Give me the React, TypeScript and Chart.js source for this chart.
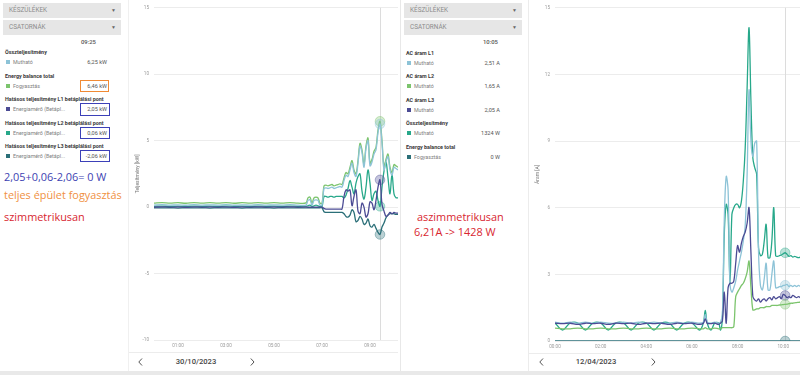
import React, { useEffect, useRef } from 'react';
import { Chart, registerables } from 'chart.js';
Chart.register(...registerables);

// ---------- colours ----------
const LIGHT_BLUE = '#8dc3d7';
const GREEN = '#7cc46d';
const NAVY = '#4b4b94';
const TEAL = '#27a88a';
const DARK_TEAL = '#2b6f78';

// ---------- left chart (30/10/2023, kW) ----------
const leftTimes = [
  0, 20, 40, 60, 80, 100, 120, 140, 160, 180, 200, 220, 240, 260, 280, 300, 320, 340, 360, 380,
  385, 390, 395, 400, 405, 410, 415, 420, 425, 430, 435, 440, 445, 450, 455, 460, 465, 470, 475, 480,
  485, 490, 495, 500, 505, 510, 515, 520, 525, 530, 535, 540, 545, 550, 555, 560, 565, 570, 575, 580,
  585, 590, 595, 600, 605, 610,
];
const leftFogyasztas = [
  0.3, 0.34, 0.3, 0.33, 0.29, 0.34, 0.3, 0.33, 0.3, 0.34, 0.29, 0.33, 0.3, 0.34, 0.3, 0.33, 0.3, 0.34, 0.3, 0.32,
  0.7, 0.75, 0.3, 0.7, 0.75, 0.7, 0.3, 0.3, 1.6, 1.65, 1.6, 1.65, 1.7, 1.6, 1.65, 1.7, 1.75, 1.7, 2.2, 2.6,
  2.5, 3.0, 3.5, 2.8, 2.5, 3.5, 4.8, 4.3, 3.2, 4.6, 5.2, 3.3, 3.6, 4.2, 4.5, 5.8, 6.46, 5.0, 3.0, 3.6,
  4.0, 3.0, 2.6, 3.2, 3.1, 3.0,
];
const leftMuthato = [
  0.15, 0.18, 0.15, 0.17, 0.14, 0.18, 0.15, 0.17, 0.15, 0.18, 0.14, 0.17, 0.15, 0.18, 0.15, 0.17, 0.15, 0.18, 0.15, 0.16,
  0.5, 0.55, 0.15, 0.5, 0.55, 0.5, 0.15, 0.15, 1.4, 1.45, 1.4, 1.45, 1.5, 1.4, 1.45, 1.5, 1.55, 1.5, 2.0, 2.4,
  2.3, 2.8, 3.3, 2.6, 2.3, 3.3, 4.6, 4.1, 3.0, 4.4, 5.0, 3.1, 3.4, 4.0, 4.3, 5.6, 6.25, 4.8, 2.8, 3.4,
  3.8, 2.8, 2.4, 3.0, 2.9, 2.8,
];
const leftL1 = [
  0.0, 0.02, 0.0, 0.01, -0.01, 0.02, 0.0, 0.01, 0.0, 0.02, -0.01, 0.01, 0.0, 0.02, 0.0, 0.01, 0.0, 0.02, 0.0, 0.01,
  0.0, 0.0, 0.0, 0.0, 0.0, 0.0, 0.0, 0.0, -0.1, -0.15, -0.15, -0.15, -0.15, -0.15, -0.15, -0.15, -0.15, -0.15, 0.8, 1.3,
  1.2, 1.3, 0.1, 0.8, 1.3, -0.3, -0.5, 0.3, 0.0, -0.75, -0.5, 0.4, 0.3, -0.2, 0.5, 1.5, 2.05, 0.2, -0.3, -0.7,
  -0.6, -0.4, -0.5, -0.4, -0.45, -0.45,
];
const leftL2 = [
  0.06, 0.08, 0.05, 0.07, 0.05, 0.08, 0.06, 0.07, 0.05, 0.08, 0.06, 0.07, 0.05, 0.08, 0.06, 0.07, 0.05, 0.08, 0.06, 0.07,
  0.1, 0.15, 0.05, 0.1, 0.15, 0.1, 0.05, 0.05, 0.8, 0.8, 0.75, 0.8, 0.8, 0.75, 0.8, 0.8, 0.8, 0.8, 0.7, 0.9,
  1.4, 2.0, 1.5, 1.0, 1.8, 2.3, 2.5, 1.2, 0.6, 1.5, 2.8, 1.8, 0.5, 1.0, 1.2, 0.5, 0.06, 1.5, 2.7, 3.4,
  2.2, 1.0, 2.5, 1.0, 0.7, 0.7,
];
const leftL3 = [
  -0.05, -0.06, -0.05, -0.07, -0.05, -0.06, -0.05, -0.07, -0.05, -0.06, -0.05, -0.07, -0.05, -0.06, -0.05, -0.07, -0.05, -0.06, -0.05, -0.06,
  -0.05, -0.05, -0.05, -0.05, -0.05, -0.05, -0.05, -0.05, -0.35, -0.4, -0.4, -0.4, -0.4, -0.4, -0.4, -0.4, -0.4, -0.4, -0.5, -0.7,
  -0.75, -0.6, -0.2, -0.4, -1.1, -1.0, -0.7, -0.9, -1.3, -1.2, -0.9, -1.4, -1.5, -1.3, -1.6, -1.9, -2.06, -1.5, -1.2, -0.8,
  -0.6, -0.5, -0.5, -0.5, -0.55, -0.55,
];
const leftCursor = 565; // 09:25
const leftYTicks = [-10, -5, 0, 5, 10, 15];
const leftXTicks = [60, 180, 300, 420, 540];

// ---------- right chart (12/04/2023, A and W) ----------
const rightTimes = [
  0, 20, 40, 60, 80, 100, 120, 140, 160, 180, 200, 220, 240, 260, 280, 300, 320, 340, 360, 380, 390, 395, 400, 410, 420, 430, 435,
  440, 445, 450, 455, 460, 465, 470, 475, 480, 485, 490, 495, 500, 505, 510, 515, 520, 525, 530, 535, 540,
  545, 550, 555, 560, 565, 570, 575, 580, 585, 590, 595, 600, 605, 610, 615, 620, 625, 630, 635, 640, 645,
];
const rightL1 = [
  0.85, 0.8, 0.85, 0.8, 0.85, 0.8, 0.85, 0.8, 0.8, 0.85, 0.8, 0.85, 0.8, 0.85, 0.8, 0.8, 0.85, 0.8, 0.85, 0.8, 0.85, 1.2, 0.85, 0.8, 0.85, 0.8, 0.85,
  1.2, 5.5, 7.4, 6.8, 2.6, 2.2, 2.4, 2.7, 3.2, 3.6, 4.0, 4.5, 5.2, 7.5, 11.3, 9.0, 8.3, 8.9, 9.0, 4.0, 2.5,
  2.3, 2.8, 3.5, 2.3, 2.3, 3.0, 3.6, 2.4, 2.4, 2.45, 2.45, 2.5, 2.51, 2.55, 2.45, 2.5, 2.45, 2.5, 2.45, 2.5, 2.45,
];
const rightL2 = [
  0.58, 0.55, 0.55, 0.58, 0.55, 0.55, 0.58, 0.55, 0.55, 0.58, 0.55, 0.55, 0.58, 0.55, 0.55, 0.58, 0.55, 0.55, 0.58, 0.55, 0.55, 0.6, 0.55, 0.55, 0.58, 0.55, 0.55,
  0.6, 0.6, 0.6, 0.6, 0.6, 0.6, 0.65, 2.0, 2.2, 2.35, 2.5, 2.6, 2.8, 3.1, 3.6, 2.4, 1.4, 1.4, 1.45, 1.45, 1.5,
  1.5, 1.5, 1.55, 1.55, 1.55, 1.6, 1.6, 1.6, 1.6, 1.62, 1.63, 1.64, 1.65, 1.66, 1.68, 1.7, 1.7, 1.72, 1.73, 1.74, 1.75,
];
const rightL3 = [
  0.8, 0.78, 0.8, 0.75, 0.8, 0.78, 0.8, 0.75, 0.8, 0.78, 0.8, 0.75, 0.8, 0.78, 0.8, 0.75, 0.8, 0.78, 0.8, 0.75, 0.8, 1.0, 0.8, 0.78, 0.8, 0.75, 0.8,
  0.9, 2.2, 0.8, 2.4, 2.6, 2.6, 2.7, 3.5, 4.3, 4.0, 4.4, 4.7, 4.9, 5.3, 6.0, 4.0, 2.0, 1.85, 1.8, 1.9, 1.75,
  1.85, 1.9, 1.8, 1.9, 1.95, 1.85, 2.0, 1.9, 1.95, 2.0, 1.9, 2.1, 2.05, 1.95, 2.0, 1.95, 2.05, 2.0, 1.95, 2.0, 1.95,
];
const rightTotalW = [
  270, 165, 270, 270, 165, 270, 270, 165, 270, 270, 165, 270, 270, 165, 270, 270, 165, 270, 270, 165, 270, 460, 270, 165, 270, 270, 165,
  350, 1600, 2050, 1900, 850, 1900, 2000, 2050, 2050, 2000, 2100, 2400, 2900, 3800, 4700, 3600, 2750, 2600, 2500, 1400, 1280,
  1300, 1500, 1750, 1250, 1250, 1500, 2000, 1280, 1270, 1280, 1290, 1310, 1324, 1300, 1270, 1280, 1260, 1270, 1260, 1250, 1260,
];
const rightFogyasztasW = rightTimes.map(() => 0);
const rightCursor = 605; // 10:05
const rightYTicks = [0, 3, 6, 9, 12, 15];
const rightXTicks = [0, 120, 240, 360, 480, 600];

// ---------- sidebar texts ----------
const leftSections = [
  { title: 'Összteljesítmény', label: 'Mutható', value: '6,25 kW', color: LIGHT_BLUE, y: 52 },
  { title: 'Energy balance total', label: 'Fogyasztás', value: '6,46 kW', color: GREEN, y: 76 },
  { title: 'Hatásos teljesítmény L1 betáplálási pont', label: 'Energiamérő (Betápl...', value: '2,05 kW', color: NAVY, y: 99 },
  { title: 'Hatásos teljesítmény L2 betáplálási pont', label: 'Energiamérő (Betápl...', value: '0,06 kW', color: TEAL, y: 123 },
  { title: 'Hatásos teljesítmény L3 betáplálási pont', label: 'Energiamérő (Betápl...', value: '-2,06 kW', color: DARK_TEAL, y: 146 },
];
const rightSections = [
  { title: 'AC áram L1', label: 'Mutható', value: '2,51 A', color: LIGHT_BLUE, y: 53 },
  { title: 'AC áram L2', label: 'Mutható', value: '1,65 A', color: GREEN, y: 76 },
  { title: 'AC áram L3', label: 'Mutható', value: '2,05 A', color: NAVY, y: 100 },
  { title: 'Összteljesítmény', label: 'Mutható', value: '1324 W', color: TEAL, y: 123 },
  { title: 'Energy balance total', label: 'Fogyasztás', value: '0 W', color: DARK_TEAL, y: 147 },
];

const FONT = 'Roboto, "Noto Sans", sans-serif';
const NOTE_FONT = '"Open Sans", "Noto Sans", sans-serif';

function fmtTime(m: number) {
  const h = Math.floor(m / 60);
  const mm = Math.round(m % 60);
  return String(h).padStart(2, '0') + ':' + String(mm).padStart(2, '0');
}

function alpha(hex: string, a: number) {
  const n = parseInt(hex.slice(1), 16);
  return `rgba(${(n >> 16) & 255},${(n >> 8) & 255},${n & 255},${a})`;
}

const cursorPlugin = {
  id: 'cursorLine',
  beforeDatasetsDraw(chart: any, _args: any, opts: any) {
    const x = chart.scales.x.getPixelForValue(opts.at);
    const { top, bottom } = chart.chartArea;
    const ctx = chart.ctx;
    ctx.save();
    ctx.strokeStyle = '#dcdcdc';
    ctx.lineWidth = 1;
    ctx.beginPath();
    ctx.moveTo(Math.round(x) + 0.5, top);
    ctx.lineTo(Math.round(x) + 0.5, bottom);
    ctx.stroke();
    ctx.restore();
  },
};

type Series = { values: number[]; color: string; axis?: string };

function LineChart(props: {
  times: number[];
  series: Series[];
  cursor: number;
  xMax: number;
  xTicks: number[];
  yTicks: number[];
  yTitle: string;
  yAxisWidth: number;
  y2Max?: number;
  width: number;
  height: number;
}) {
  const ref = useRef<HTMLCanvasElement | null>(null);
  useEffect(() => {
    if (!ref.current) return;
    const ci = props.times.indexOf(props.cursor);
    const yMin = props.yTicks[0];
    const yMax = props.yTicks[props.yTicks.length - 1];
    const datasets = props.series.map((s) => ({
      data: props.times.map((t, i) => ({ x: t, y: s.values[i] })),
      borderColor: s.color,
      borderWidth: 1.3,
      tension: 0.35,
      fill: false,
      yAxisID: s.axis || 'y',
      pointRadius: props.times.map((_, i) => (i === ci ? 4.8 : 0)),
      pointBackgroundColor: alpha(s.color, 0.32),
      pointBorderColor: alpha(s.color, 0.4),
      pointBorderWidth: 1,
    }));
    const scales: any = {
      x: {
        type: 'linear',
        min: 0,
        max: props.xMax,
        grid: { display: false, drawTicks: false },
        border: { display: false },
        afterBuildTicks: (axis: any) => {
          axis.ticks = props.xTicks.map((v) => ({ value: v }));
        },
        afterFit: (axis: any) => {
          axis.height = 12;
        },
        ticks: {
          autoSkip: false,
          maxRotation: 0,
          padding: 3,
          color: '#9a9a9a',
          font: { size: 4.6, family: FONT },
          callback: (v: any) => fmtTime(Number(v)),
        },
      },
      y: {
        type: 'linear',
        min: yMin,
        max: yMax,
        grid: { color: '#ececec', drawTicks: false, lineWidth: 1 },
        border: { display: false },
        afterBuildTicks: (axis: any) => {
          axis.ticks = props.yTicks.map((v) => ({ value: v }));
        },
        afterFit: (axis: any) => {
          axis.width = props.yAxisWidth;
        },
        ticks: {
          padding: 5,
          color: '#9a9a9a',
          font: { size: 4.6, family: FONT },
        },
        title: {
          display: true,
          text: props.yTitle,
          color: '#777',
          font: { size: 5, family: FONT },
          padding: { top: 7, bottom: 0 },
        },
      },
    };
    if (props.y2Max) {
      scales.y2 = { type: 'linear', display: false, min: 0, max: props.y2Max };
    }
    const chart = new Chart(ref.current, {
      type: 'line',
      data: { datasets: datasets as any },
      options: {
        animation: false,
        responsive: false,
        maintainAspectRatio: false,
        layout: { padding: { top: 6, right: 0, left: 0, bottom: 0 } },
        plugins: {
          legend: { display: false },
          tooltip: { enabled: false },
          cursorLine: { at: props.cursor },
        } as any,
        scales,
      },
      plugins: [cursorPlugin],
    });
    return () => chart.destroy();
  }, []);
  return <canvas ref={ref} width={props.width} height={props.height} style={{ width: props.width, height: props.height, display: 'block' }} />;
}

function Dropdown(props: { left: number; top: number; width: number; text: string }) {
  return (
    <div
      style={{
        position: 'absolute',
        left: props.left,
        top: props.top,
        width: props.width,
        height: 15,
        background: '#e6e6e6',
        fontFamily: FONT,
        fontSize: 6.4,
        color: '#8c8c8c',
        lineHeight: '15px',
        boxSizing: 'border-box',
        paddingLeft: 6,
      }}
    >
      {props.text}
      <span style={{ position: 'absolute', right: 5, top: 0, fontSize: 5, color: '#666' }}>▼</span>
    </div>
  );
}

function Sidebar(props: {
  left: number;
  time: string;
  timeLeft: number;
  sections: { title: string; label: string; value: string; color: string; y: number }[];
  valueRight: number;
  textLeft: number;
}) {
  const L = props.left;
  return (
    <>
      <Dropdown left={L + props.textLeft - 2} top={3} width={118} text="KÉSZÜLÉKEK" />
      <Dropdown left={L + props.textLeft - 2} top={20} width={118} text="CSATORNÁK" />
      <div
        style={{
          position: 'absolute',
          left: L + props.timeLeft,
          top: 38,
          fontFamily: FONT,
          fontSize: 5.9,
          fontWeight: 500,
          color: '#555',
          lineHeight: '9px',
        }}
      >
        {props.time}
      </div>
      {props.sections.map((s, i) => (
        <React.Fragment key={i}>
          <div
            style={{
              position: 'absolute',
              left: L + props.textLeft,
              top: s.y - 4.5,
              fontFamily: FONT,
              fontSize: 5.4,
              fontWeight: 700,
              color: '#3a3a3a',
              lineHeight: '9px',
              whiteSpace: 'nowrap',
            }}
          >
            {s.title}
          </div>
          <div
            style={{
              position: 'absolute',
              left: L + props.textLeft + 1,
              top: s.y + 8,
              width: 4,
              height: 4,
              background: s.color,
            }}
          />
          <div
            style={{
              position: 'absolute',
              left: L + props.textLeft + 8,
              top: s.y + 5.5,
              fontFamily: FONT,
              fontSize: 5.3,
              color: '#808080',
              lineHeight: '9px',
              whiteSpace: 'nowrap',
            }}
          >
            {s.label}
          </div>
          <div
            style={{
              position: 'absolute',
              left: L,
              width: props.valueRight,
              top: s.y + 5.5,
              textAlign: 'right',
              fontFamily: FONT,
              fontSize: 5.6,
              color: '#555',
              lineHeight: '9px',
              whiteSpace: 'nowrap',
            }}
          >
            {s.value}
          </div>
        </React.Fragment>
      ))}
    </>
  );
}

function Box(props: { left: number; top: number; width: number; height: number; color: string }) {
  return (
    <div
      style={{
        position: 'absolute',
        left: props.left,
        top: props.top,
        width: props.width,
        height: props.height,
        border: `1.5px solid ${props.color}`,
        boxSizing: 'border-box',
      }}
    />
  );
}

function Note(props: { left: number; top: number; color: string; text: string }) {
  return (
    <div
      style={{
        position: 'absolute',
        left: props.left,
        top: props.top,
        fontFamily: NOTE_FONT,
        fontSize: 10.9,
        color: props.color,
        lineHeight: '14px',
        whiteSpace: 'nowrap',
      }}
    >
      {props.text}
    </div>
  );
}

function Chevron(props: { left: number; dir: 'l' | 'r' }) {
  const pts = props.dir === 'l' ? '4,0.5 0.8,4 4,7.5' : '0.8,0.5 4,4 0.8,7.5';
  return (
    <svg style={{ position: 'absolute', left: props.left, top: 358 }} width={5} height={8}>
      <polyline points={pts} fill="none" stroke="#555" strokeWidth={1} />
    </svg>
  );
}

function Nav(props: { left: number; date: string; center: number; right: number }) {
  return (
    <>
      <Chevron left={props.left} dir="l" />
      <div
        style={{
          position: 'absolute',
          top: 356,
          lineHeight: '12px',
          fontFamily: FONT,
          color: '#444',
          left: props.center - 30,
          width: 60,
          textAlign: 'center',
          fontSize: 7.6,
          fontWeight: 500,
        }}
      >
        {props.date}
      </div>
      <Chevron left={props.right} dir="r" />
    </>
  );
}

export default function App() {
  useEffect(() => {
    document.body.style.margin = '0';
  }, []);
  return (
    <div style={{ position: 'fixed', left: 0, top: 0, width: 800, height: 375, background: '#fff', overflow: 'hidden' }}>
      {/* left panel */}
      <Sidebar left={0} time="09:25" timeLeft={81} sections={leftSections} valueRight={107} textLeft={5} />
      <Box left={80} top={80} width={29} height={12} color="#f08a34" />
      <Box left={80} top={103} width={30} height={13} color="#3c40b8" />
      <Box left={80} top={127} width={30} height={12} color="#3c40b8" />
      <Box left={80} top={150} width={30} height={12} color="#3c40b8" />
      <Note left={4} top={170} color="#3d42b2" text="2,05+0,06-2,06= 0 W" />
      <Note left={4} top={188} color="#f0903f" text="teljes épület fogyasztás" />
      <Note left={4} top={210} color="#d8262f" text="szimmetrikusan" />
      <div style={{ position: 'absolute', left: 128, top: 0, width: 1, height: 371, background: '#f0f0f0' }} />
      <div style={{ position: 'absolute', left: 128, top: 0 }}>
        <LineChart
          times={leftTimes}
          series={[
            { values: leftMuthato, color: LIGHT_BLUE },
            { values: leftFogyasztas, color: GREEN },
            { values: leftL1, color: NAVY },
            { values: leftL2, color: TEAL },
            { values: leftL3, color: DARK_TEAL },
          ]}
          cursor={leftCursor}
          xMax={610}
          xTicks={leftXTicks}
          yTicks={leftYTicks}
          yTitle="Teljesítmény [kW]"
          yAxisWidth={26}
          width={270}
          height={352}
        />
      </div>
      <div style={{ position: 'absolute', left: 129, top: 352, width: 269, height: 1, background: '#ececec' }} />
      <Nav left={138} date="30/10/2023" center={196} right={250} />

      {/* right panel */}
      <div style={{ position: 'absolute', left: 400, top: 0, width: 1, height: 371, background: '#e8e8e8' }} />
      <Sidebar left={398} time="10:05" timeLeft={85} sections={rightSections} valueRight={102} textLeft={8} />
      <Note left={417} top={210} color="#d8262f" text="aszimmetrikusan" />
      <Note left={414} top={225} color="#d8262f" text="6,21A -> 1428 W" />
      <div style={{ position: 'absolute', left: 528, top: 0, width: 1, height: 371, background: '#ececec' }} />
      <div style={{ position: 'absolute', left: 528, top: 0 }}>
        <LineChart
          times={rightTimes}
          series={[
            { values: rightFogyasztasW, color: DARK_TEAL, axis: 'y2' },
            { values: rightL2, color: GREEN },
            { values: rightL3, color: NAVY },
            { values: rightL1, color: LIGHT_BLUE },
            { values: rightTotalW, color: TEAL, axis: 'y2' },
          ]}
          cursor={rightCursor}
          xMax={644}
          xTicks={rightXTicks}
          yTicks={rightYTicks}
          yTitle="Áram [A]"
          yAxisWidth={27}
          y2Max={5000}
          width={272}
          height={353}
        />
      </div>
      <div style={{ position: 'absolute', left: 529, top: 353, width: 271, height: 1, background: '#ececec' }} />
      <Nav left={539} date="12/04/2023" center={596} right={651} />

      {/* bottom band */}
      <div style={{ position: 'absolute', left: 0, top: 371, width: 800, height: 4, background: '#e9e9e9' }} />
    </div>
  );
}
